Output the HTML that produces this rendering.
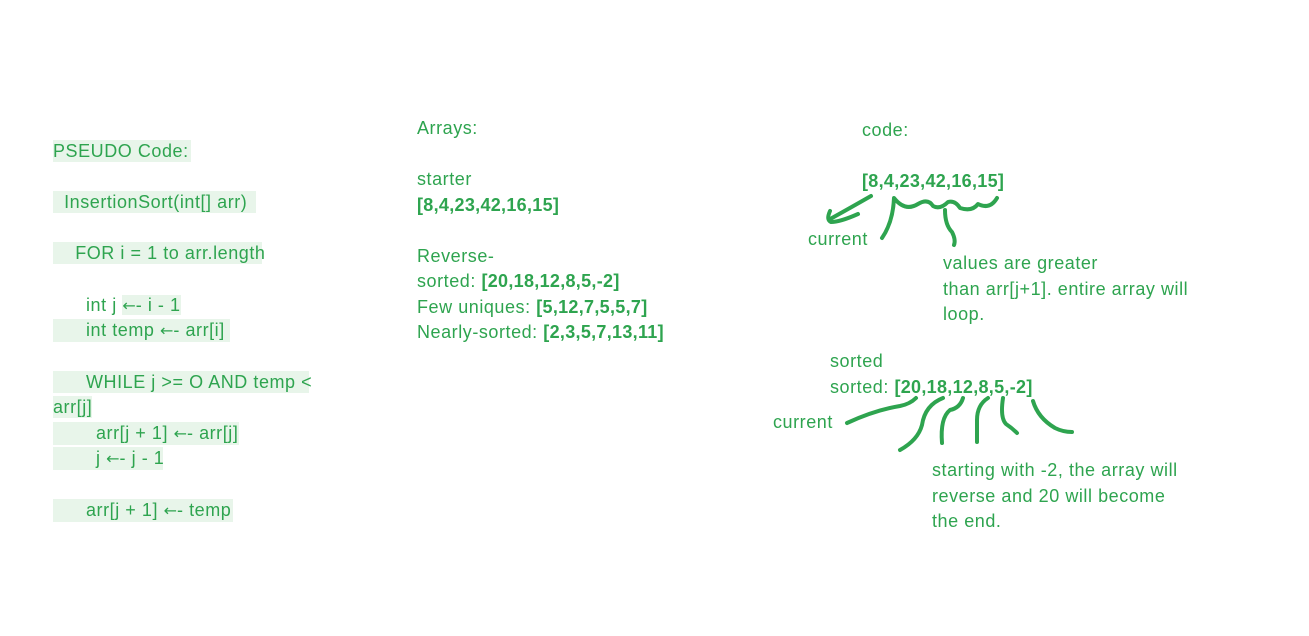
<!DOCTYPE html>
<html><head><style>
body{margin:0;width:1309px;height:636px;background:#fff;position:relative;overflow:hidden;font-family:"Liberation Sans",sans-serif;color:#2ea44f;font-size:18px;letter-spacing:0.55px}
.t{position:absolute;white-space:nowrap;line-height:22px}
.h{background:#e8f5ea}
b{font-weight:bold;letter-spacing:0.3px}
.a{font-family:"DejaVu Sans",sans-serif;font-size:16px;letter-spacing:0}
</style></head><body>
<div class="t h" style="left:53px;top:140px;padding-right:2px">PSEUDO Code:</div>
<div class="t h" style="left:53px;top:191px;width:203px">&nbsp; InsertionSort(int[] arr)</div>
<div class="t h" style="left:53px;top:242px;width:209px">&nbsp;&nbsp;&nbsp; FOR i = 1 to arr.length</div>
<div class="t" style="left:53px;top:294px"><span style="padding-left:33px">int j </span><span class="h"><span class="a">←</span>- i - 1</span></div>
<div class="t h" style="left:53px;top:319px;width:177px"><span style="padding-left:33px">int temp <span class="a">←</span>- arr[i]</span></div>
<div class="t h" style="left:53px;top:371px;width:256px"><span style="padding-left:33px">WHILE j &gt;= O AND temp &lt;</span></div>
<div class="t h" style="left:53px;top:396px">arr[j]</div>
<div class="t h" style="left:53px;top:422px;width:186px"><span style="padding-left:43px">arr[j + 1] <span class="a">←</span>- arr[j]</span></div>
<div class="t h" style="left:53px;top:447px;width:110px"><span style="padding-left:43px">j <span class="a">←</span>- j - 1</span></div>
<div class="t h" style="left:53px;top:499px;width:180px"><span style="padding-left:33px">arr[j + 1] <span class="a">←</span>- temp</span></div>

<div class="t" style="left:417px;top:117px">Arrays:</div>
<div class="t" style="left:417px;top:168px">starter</div>
<div class="t" style="left:417px;top:194px"><b>[8,4,23,42,16,15]</b></div>
<div class="t" style="left:417px;top:245px">Reverse-</div>
<div class="t" style="left:417px;top:270px">sorted: <b>[20,18,12,8,5,-2]</b></div>
<div class="t" style="left:417px;top:296px">Few uniques: <b>[5,12,7,5,5,7]</b></div>
<div class="t" style="left:417px;top:321px">Nearly-sorted: <b>[2,3,5,7,13,11]</b></div>

<div class="t" style="left:862px;top:119px">code:</div>
<div class="t" style="left:862px;top:170px"><b>[8,4,23,42,16,15]</b></div>
<div class="t" style="left:808px;top:228px">current</div>
<div class="t" style="left:943px;top:252px">values are greater</div>
<div class="t" style="left:943px;top:278px">than arr[j+1]. entire array will</div>
<div class="t" style="left:943px;top:303px">loop.</div>
<div class="t" style="left:830px;top:350px">sorted</div>
<div class="t" style="left:830px;top:376px">sorted: <b>[20,18,12,8,5,-2]</b></div>
<div class="t" style="left:773px;top:411px">current</div>
<div class="t" style="left:932px;top:459px">starting with -2, the array will</div>
<div class="t" style="left:932px;top:485px">reverse and 20 will become</div>
<div class="t" style="left:932px;top:510px">the end.</div>

<svg width="1309" height="636" style="position:absolute;left:0;top:0" fill="none" stroke="#2ea44f" stroke-width="4" stroke-linecap="round" stroke-linejoin="round">
<path d="M871 196 Q850 208 832 218 M830 211 Q826 220 831 222 Q840 222 858 214"/>
<path d="M882 238 Q893 222 894 198 Q905 212 918 204 Q928 198 933 206 Q940 210 948 202 Q955 200 960 208 Q972 212 978 204 Q990 210 997 198"/>
<path d="M945 210 Q945 225 952 232 Q956 240 954 245"/>
<path d="M847 423 Q875 410 900 406 Q910 404 916 398"/>
<path d="M943 398 Q925 405 922 425 Q918 440 900 450"/>
<path d="M963 398 Q960 408 950 410 Q940 418 942 443"/>
<path d="M988 398 Q977 405 977 420 L977 442"/>
<path d="M1003 398 Q1000 418 1006 424 Q1012 428 1017 433"/>
<path d="M1033 401 Q1038 418 1055 428 Q1063 432 1072 432"/>
</svg>
</body></html>
